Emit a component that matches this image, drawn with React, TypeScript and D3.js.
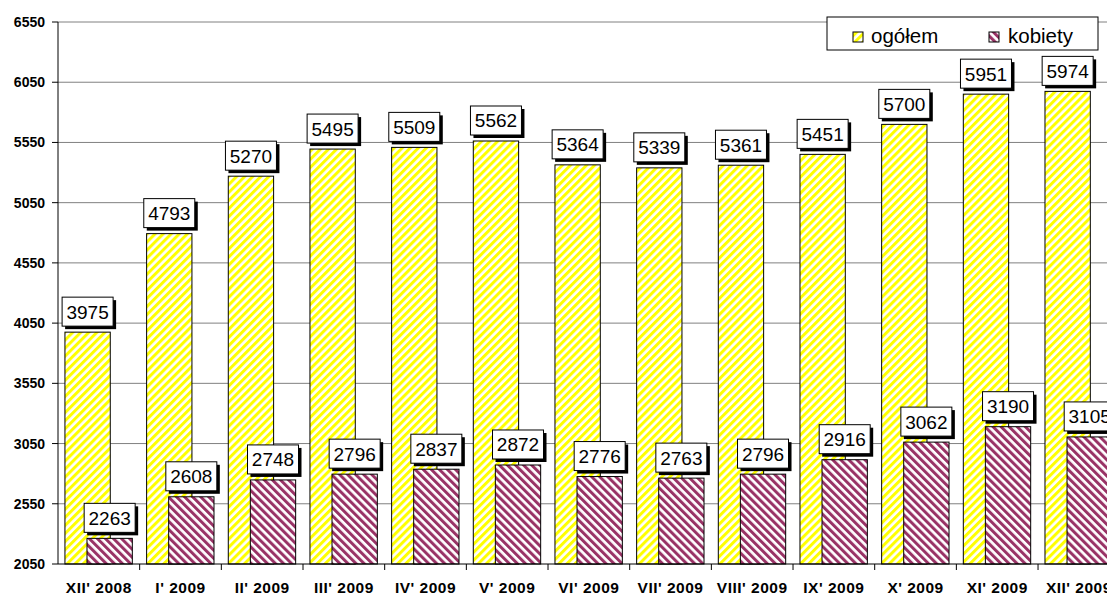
import React from "react";
import * as d3 from "d3";

const categories = ["XII' 2008", "I' 2009", "II' 2009", "III' 2009", "IV' 2009", "V' 2009", "VI' 2009", "VII' 2009", "VIII' 2009", "IX' 2009", "X' 2009", "XI' 2009", "XII' 2009"];
const ogolem = [3975, 4793, 5270, 5495, 5509, 5562, 5364, 5339, 5361, 5451, 5700, 5951, 5974];
const kobiety = [2263, 2608, 2748, 2796, 2837, 2872, 2776, 2763, 2796, 2916, 3062, 3190, 3105];
const yTicks = [2050, 2550, 3050, 3550, 4050, 4550, 5050, 5550, 6050, 6550];
const seriesNames = ["ogółem", "kobiety"];

const W = 1107;
const H = 595;
const FONT = "Arial, 'Liberation Sans', sans-serif";

export default function App() {
  const left = 58;
  const bw = 81.67;
  const x = d3.scaleBand<string>().domain(categories).range([left, left + bw * categories.length]).padding(0);
  const y = d3.scaleLinear().domain([2050, 6550]).range([564, 22]);
  const band = x.bandwidth();
  const barW = band * 0.555;
  const offA = band * 0.085;
  const offB = band * 0.355;

  const label = (cx: number, topY: number, v: number, key: string) => {
    const bwid = 51, bh = 29;
    const bx = cx - bwid / 2;
    const by = topY - 6 - bh;
    return (
      <g key={key}>
        <rect x={bx + 3} y={by + 3} width={bwid} height={bh} fill="#000" />
        <rect x={bx} y={by} width={bwid} height={bh} fill="#fff" stroke="#000" strokeWidth={1} />
        <text x={cx} y={by + bh / 2 + 7} textAnchor="middle" fontSize={19} fontFamily={FONT} fill="#000">{v}</text>
      </g>
    );
  };

  return (
    <svg width={W} height={H} style={{ position: "absolute", left: 0, top: 0, background: "#fff" }}>
      <defs>
        <pattern id="pY" patternUnits="userSpaceOnUse" width={5.7} height={5.7} patternTransform="rotate(45)">
          <rect width={5.7} height={5.7} fill="#fff" />
          <rect width={3} height={5.7} fill="#ffff00" />
        </pattern>
        <pattern id="pK" patternUnits="userSpaceOnUse" width={5.7} height={5.7} patternTransform="rotate(-45)">
          <rect width={5.7} height={5.7} fill="#fff" />
          <rect width={3} height={5.7} fill="#993366" />
        </pattern>
      </defs>
      <rect x={0} y={0} width={W} height={H} fill="#fff" />
      {yTicks.map((t) => (
        <g key={t}>
          {t !== 2050 && <line x1={left} x2={W} y1={y(t)} y2={y(t)} stroke="#808080" strokeWidth={1} />}
          <line x1={left - 6} x2={left} y1={y(t)} y2={y(t)} stroke="#000" />
          <text x={45} y={y(t) + 5} textAnchor="end" fontSize={14} fontWeight="bold" fontFamily={FONT}>{t}</text>
        </g>
      ))}
      {categories.map((c, i) => {
        const x0 = x(c) as number;
        return (
          <g key={c}>
            <rect x={x0 + offA} y={y(ogolem[i])} width={barW} height={y(2050) - y(ogolem[i])} fill="url(#pY)" stroke="#000" strokeWidth={1} />
            <rect x={x0 + offB} y={y(kobiety[i])} width={barW} height={y(2050) - y(kobiety[i])} fill="url(#pK)" stroke="#000" strokeWidth={1} />
          </g>
        );
      })}
      <line x1={left} x2={left} y1={y(6550)} y2={y(2050)} stroke="#000" />
      <line x1={left} x2={W} y1={y(2050)} y2={y(2050)} stroke="#000" />
      {categories.map((c, i) => {
        const x0 = x(c) as number;
        return (
          <g key={"t" + c}>
            <line x1={x0 + band} x2={x0 + band} y1={y(2050)} y2={y(2050) + 6} stroke="#000" />
            <text x={x0 + band / 2} y={593} textAnchor="middle" fontSize={15.5} letterSpacing={0.5} fontWeight="bold" fontFamily={FONT}>{c}</text>
          </g>
        );
      })}
      {categories.map((c, i) => {
        const x0 = x(c) as number;
        return (
          <g key={"l" + c}>
            {label(x0 + offA + barW / 2, y(ogolem[i]), ogolem[i], "a")}
            {label(x0 + offB + barW / 2, y(kobiety[i]), kobiety[i], "b")}
          </g>
        );
      })}
      <g>
        <rect x={827} y={17} width={271} height={33} fill="#fff" stroke="#000" />
        <rect x={853} y={32} width={10} height={10} fill="url(#pY)" stroke="#000" />
        <text x={871} y={43} fontSize={20.5} fontFamily={FONT}>{seriesNames[0]}</text>
        <rect x={989} y={32} width={10} height={10} fill="url(#pK)" stroke="#000" />
        <text x={1008} y={43} fontSize={20.5} fontFamily={FONT}>{seriesNames[1]}</text>
      </g>
    </svg>
  );
}
